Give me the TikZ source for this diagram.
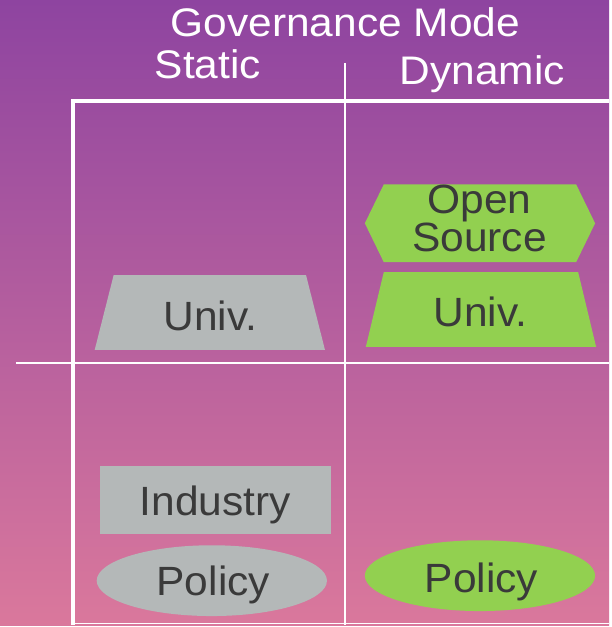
\documentclass[tikz,border=0pt]{standalone}
\usepackage{fontspec}
\setmainfont{Liberation Sans}[FakeStretch=1.04]
\newfontfamily\headfont{Liberation Sans}[FakeStretch=1.065]
\definecolor{mauve}{RGB}{142,68,160}
\definecolor{rose}{RGB}{218,120,156}
\definecolor{leaf}{RGB}{146,208,80}
\definecolor{stone}{RGB}{180,184,184}
\definecolor{ink}{RGB}{58,58,58}

\begin{document}
\begin{tikzpicture}[x=1pt,y=-1pt,
  headtext/.style={text=white,font=\headfont\fontsize{40}{40}\selectfont,inner sep=0pt,anchor=base},
  boxtext/.style={text=ink,font=\fontsize{41}{37}\selectfont,inner sep=0pt,anchor=base}]
\shade [top color=mauve, bottom color=rose] (0,0) rectangle (611,627);

% frame
\draw [white, line width=4pt] (73,627) -- (73,101) -- (611,101);
\draw [white, line width=1.5pt] (346,63) -- (346,627);
\draw [white, line width=1.5pt] (16,364) -- (611,364);
\draw [white, line width=1pt] (75,625.5) -- (611,625.5);

% headers
\node [headtext] (mode) at (346.5,37) {Governance Mode};
\node [headtext] (static) at (208.5,79) {Static};
\node [headtext] (dynamic) at (484,85) {Dynamic};

% static column
\fill [stone] (114,276) -- (307,276) -- (326,351) -- (95,351) -- cycle;
\node [boxtext] (univS) at (211,332) {Univ.};
\fill [stone] (100,467) rectangle (332,536);
\node [boxtext] (industry) at (216,517) {Industry};
\fill [stone] (212.5,582.5) ellipse [x radius=115.5pt, y radius=35.5pt];
\node [boxtext] (policyS) at (214,597) {Policy};

% dynamic column
\fill [leaf] (366,224) -- (385,185) -- (578,185) -- (597,224) -- (578,263) -- (385,263) -- cycle;
\node [boxtext, anchor=center, align=center] (openD) at (481,219) {Open\\Source};
\fill [leaf] (385,273) -- (580,273) -- (598,348) -- (367,348) -- cycle;
\node [boxtext] (univD) at (482,328) {Univ.};
\fill [leaf] (481.5,577.5) ellipse [x radius=115.5pt, y radius=35.5pt];
\node [boxtext] (policyD) at (483,594) {Policy};

\end{tikzpicture}
\end{document}
